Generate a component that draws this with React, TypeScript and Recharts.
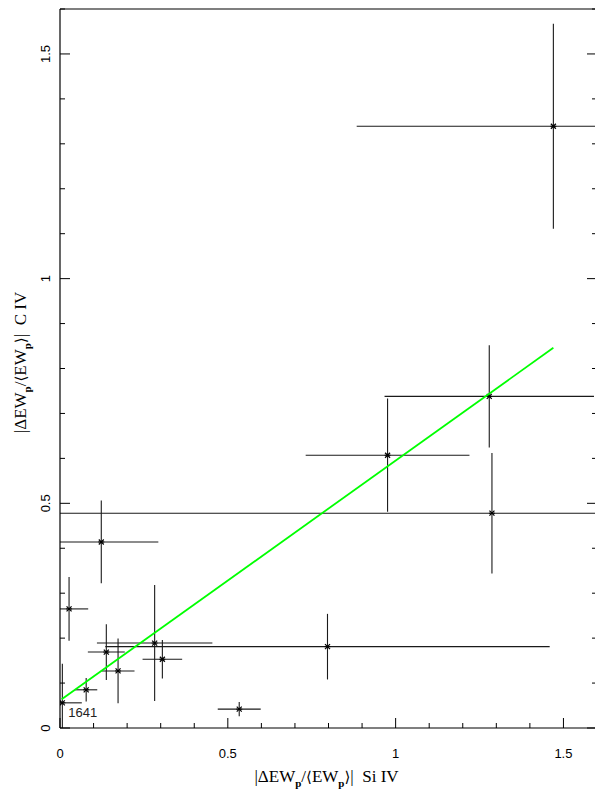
import { ScatterChart, Scatter, XAxis, YAxis, ErrorBar, Label } from 'recharts'

// |ΔEW/<EW>| Si IV (x) vs C IV (y), with 1σ errors
const siIV = [0.007, 0.027, 0.078, 0.123, 0.138, 0.173, 0.282, 0.305, 0.534, 0.797, 0.976, 1.279, 1.287, 1.47]
const siIVErr = [0.058, 0.057, 0.033, 0.17, 0.055, 0.049, 0.172, 0.059, 0.064, 0.662, 0.244, 0.312, 1.5, 0.586]
const cIV = [0.056, 0.265, 0.085, 0.414, 0.169, 0.127, 0.189, 0.153, 0.042, 0.181, 0.607, 0.738, 0.478, 1.339]
const cIVErr = [0.087, 0.071, 0.026, 0.092, 0.062, 0.072, 0.129, 0.043, 0.016, 0.073, 0.126, 0.114, 0.134, 0.228]
const pointNames = ['1641', '', '', '', '', '', '', '', '', '', '', '', '', '']

// linear fit
const fitX = [0.005, 1.47]
const fitY = [0.064, 0.846]

const axisTicks = [0, 0.1, 0.2, 0.3, 0.4, 0.5, 0.6, 0.7, 0.8, 0.9, 1, 1.1, 1.2, 1.3, 1.4, 1.5, 1.6]
const majorTicks = [0, 0.5, 1, 1.5]
const AXIS_MIN = 0
const AXIS_MAX = 1.6

// error bars are cut at the frame, like the plotting package does
const clipErr = (v: number, e: number) => [Math.min(e, v - AXIS_MIN), Math.min(e, AXIS_MAX - v)]

const points = siIV.map((x, i) => ({
  x,
  y: cIV[i],
  ex: clipErr(x, siIVErr[i]),
  ey: clipErr(cIV[i], cIVErr[i]),
  name: pointNames[i],
}))
const fitLine = fitX.map((x, i) => ({ x, y: fitY[i] }))

const SANS = '"Liberation Sans", Arial, sans-serif'
const SERIF = '"Liberation Serif", "DejaVu Serif", serif'
const INK = '#1a1a1a'

const isMajor = (v: number) => majorTicks.includes(v)

function BottomTick({ x, y, payload }: any) {
  const v = payload.value
  return (
    <g>
      <line x1={x} x2={x} y1={y} y2={y - (isMajor(v) ? 10 : 5)} stroke="#000" />
      {isMajor(v) && (
        <text x={x} y={y + 25} textAnchor="middle" dominantBaseline="central"
          fontFamily={SANS} fontSize={13} fill="#000">{String(v)}</text>
      )}
    </g>
  )
}

function TopTick({ x, y, payload }: any) {
  const v = payload.value
  return <line x1={x} x2={x} y1={y} y2={y + (isMajor(v) ? 10 : 5)} stroke="#000" />
}

function LeftTick({ x, y, payload }: any) {
  const v = payload.value
  return (
    <g>
      <line x1={x} x2={x + (isMajor(v) ? 10 : 5)} y1={y} y2={y} stroke="#000" />
      {isMajor(v) && (
        <text x={x - 15} y={y} textAnchor="middle" dominantBaseline="central"
          transform={`rotate(-90, ${x - 15}, ${y})`}
          fontFamily={SANS} fontSize={13} fill="#000">{String(v)}</text>
      )}
    </g>
  )
}

function RightTick({ x, y, payload }: any) {
  const v = payload.value
  return <line x1={x} x2={x - (isMajor(v) ? 10 : 5)} y1={y} y2={y} stroke="#000" />
}

// |ΔEW_p/<EW_p>| + species
function AxisTitle({ x, y, rotate, species }: { x: number; y: number; rotate?: boolean; species: string }) {
  return (
    <text x={x} y={y} textAnchor="middle" fontFamily={SERIF} fontSize={17} fill="#000"
      style={{ whiteSpace: 'pre' }}
      transform={rotate ? `rotate(-90, ${x}, ${y})` : undefined}>
      <tspan>|ΔEW</tspan>
      <tspan fontSize={11} fontWeight="bold" dy={5}>p</tspan>
      <tspan dy={-5}>/</tspan>
      <tspan fontFamily='"DejaVu Serif", serif' fontSize={15}>⟨</tspan>
      <tspan>EW</tspan>
      <tspan fontSize={11} fontWeight="bold" dy={5}>p</tspan>
      <tspan dy={-5} fontFamily='"DejaVu Serif", serif' fontSize={15}>⟩</tspan>
      <tspan>{`|  ${species}`}</tspan>
    </text>
  )
}

function StarPoint({ cx, cy, payload }: any) {
  if (cx == null || cy == null) return <g />
  return (
    <g>
      <line x1={cx - 2.5} x2={cx + 2.5} y1={cy - 2.5} y2={cy + 2.5} stroke="#000" strokeWidth={1.2} />
      <line x1={cx - 2.5} x2={cx + 2.5} y1={cy + 2.5} y2={cy - 2.5} stroke="#000" strokeWidth={1.2} />
      <line x1={cx - 3} x2={cx + 3} y1={cy} y2={cy} stroke="#000" strokeWidth={1} />
      {payload?.name && (
        <text x={cx + 6} y={cy + 10} dominantBaseline="central" fontFamily={SANS}
          fontSize={13} fill="#222">{payload.name}</text>
      )}
    </g>
  )
}

export default function App() {
  return (
    <div style={{ width: 595, height: 789, overflow: 'hidden', background: '#fff' }}>
      <style>{'body{margin:0}'}</style>
      <ScatterChart width={600} height={789} margin={{ top: 8, right: 2, bottom: 0, left: 0 }}>
        <XAxis
          dataKey="x"
          type="number"
          domain={[AXIS_MIN, AXIS_MAX]}
          allowDataOverflow
          ticks={axisTicks}
          interval={0}
          tickSize={0}
          tickMargin={0}
          tickLine={false}
          height={61}
          axisLine={{ stroke: '#000', strokeWidth: 1.2 }}
          tick={<BottomTick />}
        >
          <Label content={({ viewBox }: any) => (
            <AxisTitle x={viewBox.x + viewBox.width / 2 - 2} y={viewBox.y + 54} species="Si IV" />
          )} />
        </XAxis>
        <XAxis
          xAxisId="top"
          orientation="top"
          type="number"
          domain={[AXIS_MIN, AXIS_MAX]}
          allowDataOverflow
          ticks={axisTicks}
          interval={0}
          tickSize={0}
          tickMargin={0}
          tickLine={false}
          height={1}
          axisLine={{ stroke: '#000', strokeWidth: 1.2 }}
          tick={<TopTick />}
        />
        <YAxis
          dataKey="y"
          type="number"
          domain={[AXIS_MIN, AXIS_MAX]}
          allowDataOverflow
          ticks={axisTicks}
          interval={0}
          tickSize={0}
          tickMargin={0}
          tickLine={false}
          width={60}
          axisLine={{ stroke: '#000', strokeWidth: 1.2 }}
          tick={<LeftTick />}
        >
          <Label content={({ viewBox }: any) => (
            <AxisTitle x={26} y={viewBox.y + viewBox.height / 2 - 6} rotate species="C IV" />
          )} />
        </YAxis>
        <YAxis
          yAxisId="right"
          orientation="right"
          type="number"
          domain={[AXIS_MIN, AXIS_MAX]}
          allowDataOverflow
          ticks={axisTicks}
          interval={0}
          tickSize={0}
          tickMargin={0}
          tickLine={false}
          width={1}
          axisLine={{ stroke: '#000', strokeWidth: 1.2 }}
          tick={<RightTick />}
        />
        <Scatter data={points} shape={<StarPoint />} isAnimationActive={false}>
          <ErrorBar dataKey="ex" direction="x" width={0} stroke={INK} strokeWidth={1.1} />
          <ErrorBar dataKey="ey" direction="y" width={0} stroke={INK} strokeWidth={1.1} />
        </Scatter>
        <Scatter
          data={fitLine}
          line={{ stroke: '#00ff00', strokeWidth: 1.8 }}
          shape={() => <g />}
          isAnimationActive={false}
        />
      </ScatterChart>
    </div>
  )
}
